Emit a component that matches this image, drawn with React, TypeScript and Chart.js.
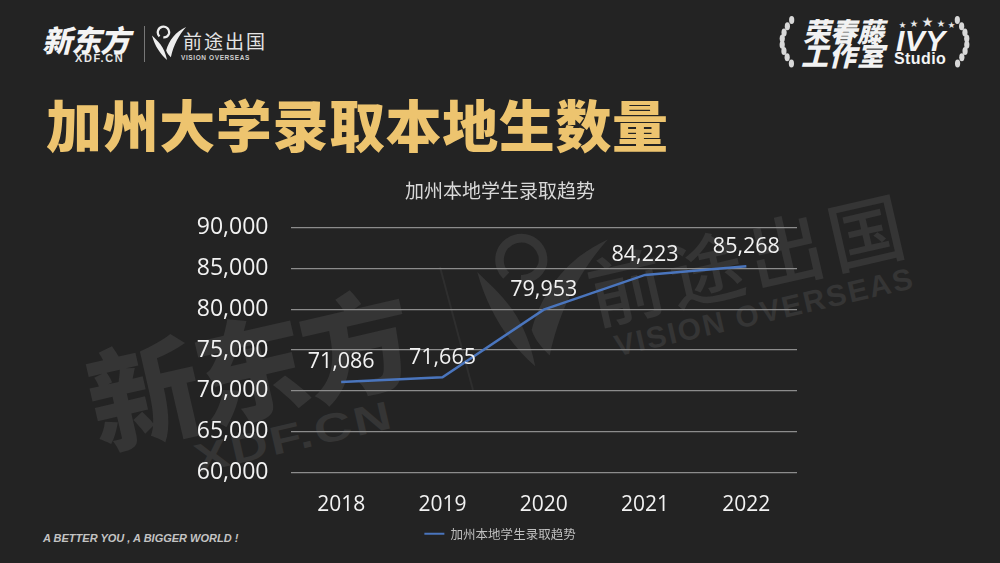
import React, { useEffect, useRef } from "react";
import { Chart, registerables } from "chart.js";

Chart.register(...registerables);

const years = ["2018", "2019", "2020", "2021", "2022"];
const admitted = [71086, 71665, 79953, 84223, 85268];
const seriesName = "加州本地学生录取趋势";
const heading = "加州大学录取本地生数量";
const SANS = '"Open Sans", "Noto Sans CJK SC", sans-serif';
const CJK = '"Noto Sans CJK SC", sans-serif';
const WM = "#353535";

const valueLabels = {
  id: "valueLabels",
  afterDatasetsDraw(chart: any) {
    const { ctx } = chart;
    const meta = chart.getDatasetMeta(0);
    ctx.save();
    ctx.font = `21.5px ${SANS}`;
    ctx.fillStyle = "#f2f2f2";
    ctx.textAlign = "center";
    ctx.textBaseline = "bottom";
    meta.data.forEach((pt: any, i: number) => {
      ctx.fillText(admitted[i].toLocaleString("en-US"), pt.x, pt.y - 9);
    });
    ctx.restore();
  },
};

const abs = (s: React.CSSProperties): React.CSSProperties => ({ position: "absolute", whiteSpace: "nowrap", lineHeight: 1, ...s });

function Mark({ text, style }: { text: string; style: React.CSSProperties }) {
  return <div style={abs({ fontFamily: CJK, ...style })}>{text}</div>;
}

const SWOOSH = "M2 11 C8 17 15 22 18 37 C11 31 5 22 2 11 Z M17 27 C20 16 27 7 38 2 C31 10 25 20 22 34 C20 32 18 30 17 27 Z";

function Swoosh({ style, color }: { style: React.CSSProperties; color: string }) {
  return (
    <svg style={{ position: "absolute", ...style }} viewBox="0 0 40 38">
      <path d="M10 12 A6 6 0 1 1 20 9 A6 6 0 0 1 14 13" fill="none" stroke={color} strokeWidth="2.4" />
      <path d={SWOOSH} fill={color} />
    </svg>
  );
}

const starLeft = [899, 910, 922, 937, 948];
const starTop = [21, 19, 16, 19, 21];
const starSize = [7, 8, 11, 8, 7];
const leafRows = [0, 1, 2, 3, 4, 5, 6, 7];

export default function App() {
  const ref = useRef<HTMLCanvasElement>(null);
  useEffect(() => {
    document.body.style.margin = "0";
    const chart = new Chart(ref.current!, {
      type: "line",
      data: {
        labels: years,
        datasets: [
          {
            label: seriesName,
            data: admitted,
            yAxisID: "y",
            borderColor: "#4a75bd",
            backgroundColor: "#4a75bd",
            borderWidth: 2.5,
            pointRadius: 0,
            tension: 0,
          },
        ],
      },
      options: {
        responsive: false,
        animation: false,
        layout: { padding: { top: 179, left: 190, right: 190, bottom: 13 } },
        plugins: {
          title: {
            display: true,
            text: seriesName,
            color: "#d9d9d9",
            font: { family: CJK, size: 19, weight: "normal" },
            padding: { top: 0, bottom: 26 },
          },
          legend: {
            display: true,
            position: "bottom",
            labels: {
              color: "#bfbfbf",
              font: { family: CJK, size: 12.5 },
              boxWidth: 20,
              boxHeight: 2,
              padding: 2,
              generateLabels: (c: any) =>
                (Chart.defaults.plugins.legend.labels as any).generateLabels(c).map((l: any) => ({ ...l, lineWidth: 0 })),
            },
          },
          tooltip: { enabled: false },
        },
        scales: {
          x: {
            offset: true,
            afterFit: (s: any) => {
              s.height -= 4;
            },
            grid: { display: false },
            border: { display: false },
            ticks: { color: "#f2f2f2", font: { family: SANS, size: 21 }, padding: 12 },
          },
          y: {
            min: 60000,
            max: 90000,
            afterFit: (s: any) => {
              s.width = 100.5;
            },
            grid: { color: "#8c8c8c", lineWidth: 1.2, drawTicks: false },
            border: { display: false },
            ticks: {
              stepSize: 5000,
              color: "#f2f2f2",
              font: { family: SANS, size: 23 },
              padding: 22,
              callback: (v: any) => Number(v).toLocaleString("en-US"),
            },
          },
          spacer: {
            position: "right",
            min: 60000,
            max: 90000,
            afterFit: (s: any) => {
              s.width = 13;
            },
            grid: { display: false },
            border: { display: false },
            ticks: { display: false },
          },
        },
      } as any,
      plugins: [valueLabels],
    });
    return () => chart.destroy();
  }, []);

  return (
    <div style={{ position: "relative", width: 1000, height: 563, background: "#232323", overflow: "hidden" }}>
      {/* watermark */}
      <div style={{ position: "absolute", left: 0, top: 0, width: 1000, height: 563, transform: "rotate(-13deg)", transformOrigin: "480px 340px" }}>
        <Mark text="新东方" style={{ left: 85, top: 255, fontSize: 112, fontWeight: 900, color: WM, letterSpacing: -3 }} />
        <Mark text="XDF.CN" style={{ left: 175, top: 372, fontSize: 40, fontWeight: 700, fontFamily: "Liberation Sans", color: WM, letterSpacing: 2, transform: "scaleX(1.3)", transformOrigin: "0 0" }} />
        <Mark text="前途出国" style={{ left: 596, top: 280, fontSize: 76, fontWeight: 500, color: WM, letterSpacing: 6 }} />
        <Mark text="VISION OVERSEAS" style={{ left: 610, top: 362, fontSize: 30, fontWeight: 700, fontFamily: "Liberation Sans", color: WM, letterSpacing: 2 }} />
      </div>
      <Swoosh color={WM} style={{ left: 470, top: 232, width: 145, height: 138 }} />
      <svg style={{ position: "absolute", left: 0, top: 0 }} width="1000" height="563">
        <line x1="440" y1="267" x2="473" y2="390" stroke="#2e2e2e" strokeWidth="2" />
      </svg>
      {/* top-left logo */}
      <Mark text="新东方" style={{ left: 42, top: 24, fontSize: 30, fontWeight: 900, fontStyle: "italic", color: "#f4f4f4", letterSpacing: -1 }} />
      <Mark text="XDF.CN" style={{ left: 75, top: 53, fontSize: 11, fontWeight: 700, fontFamily: "Liberation Sans", color: "#e8e8e8", letterSpacing: 1.6 }} />
      <div style={{ position: "absolute", left: 144, top: 26, width: 1, height: 36, background: "#777" }} />
      <Swoosh color="#eeeeee" style={{ left: 150, top: 25, width: 38, height: 36 }} />
      <Mark text="前途出国" style={{ left: 183, top: 31, fontSize: 19, fontWeight: 400, color: "#e4e4e4", letterSpacing: 2 }} />
      <Mark text="VISION OVERSEAS" style={{ left: 181, top: 55, fontSize: 6.5, fontWeight: 700, fontFamily: "Liberation Sans", color: "#cfcfcf", letterSpacing: 0.6 }} />
      {/* top-right logo */}
      <svg style={{ position: "absolute", left: 0, top: 0 }} width="1000" height="90">
        {leafRows.map((r) => (
          <g key={r} fill="#d8d8d8">
            <ellipse cx={794 - 12 * Math.sin((r + 0.5) * 0.39)} cy={20 + r * 6.2} rx="2.6" ry="4" />
            <ellipse cx={955 + 12 * Math.sin((r + 0.5) * 0.39)} cy={20 + r * 6.2} rx="2.6" ry="4" />
          </g>
        ))}
      </svg>
      <Mark text="荣春藤" style={{ left: 803, top: 17, fontSize: 27, fontWeight: 900, fontStyle: "italic", color: "#f2f2f2", letterSpacing: 0 }} />
      <Mark text="工作室" style={{ left: 801, top: 41, fontSize: 27, fontWeight: 900, fontStyle: "italic", color: "#f2f2f2", letterSpacing: 1 }} />
      {starLeft.map((x, i) => (
        <Mark key={x} text="★" style={{ left: x, top: starTop[i], fontSize: starSize[i], color: "#e8e8e8" }} />
      ))}
      <Mark text="IVY" style={{ left: 896, top: 26, fontSize: 30, fontWeight: 700, fontStyle: "italic", fontFamily: "Liberation Sans", color: "#f4f4f4", letterSpacing: 0.5 }} />
      <Mark text="Studio" style={{ left: 894, top: 51, fontSize: 16, fontWeight: 700, fontFamily: "Liberation Sans", color: "#f4f4f4", letterSpacing: 0.4 }} />
      {/* heading */}
      <Mark text={heading} style={{ left: 46, top: 95, fontSize: 56, fontWeight: 900, color: "#edc46f", letterSpacing: 0.6 }} />
      {/* slogan */}
      <Mark text="A BETTER YOU , A BIGGER WORLD !" style={{ left: 43, top: 533, fontSize: 11, fontStyle: "italic", fontWeight: 700, fontFamily: "Liberation Sans", color: "#c4c4c4" }} />
      <canvas ref={ref} width={1000} height={563} style={{ position: "absolute", left: 0, top: 0, width: 1000, height: 563 }} />
    </div>
  );
}
